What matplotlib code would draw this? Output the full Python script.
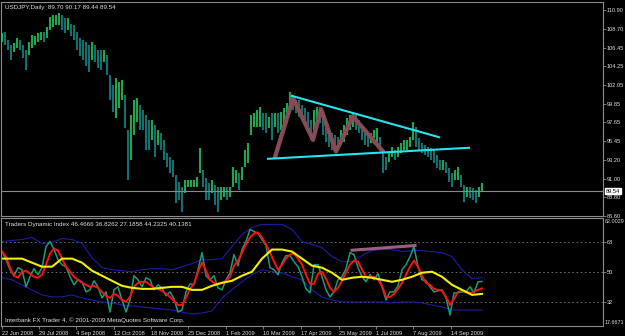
import matplotlib
matplotlib.use('Agg')
import matplotlib.pyplot as plt
import matplotlib.transforms as mtransforms
import numpy as np
import pandas as pd

# USDJPY daily, high/low sampled every 3 calendar days from 22 Jun 2008
price_high = [108.19, 108.31, 107.37, 106.78, 107.01, 107.60, 107.37, 106.78, 106.19, 107.13,
              107.96, 107.84, 108.19, 108.31, 108.31, 108.90, 110.08, 110.31, 110.31, 110.55,
              110.31, 109.96, 109.96, 109.25, 109.13, 108.31, 107.60, 107.37, 107.13, 106.78,
              107.13, 106.78, 106.19, 106.19, 106.19, 105.60, 103.24, 102.07, 102.89, 102.42,
              102.66, 100.89, 96.77, 98.53, 100.30, 100.54, 99.71, 99.12, 98.53, 97.94,
              97.94, 97.35, 96.77, 96.41, 95.59, 94.06, 93.59, 93.23, 91.47, 90.64,
              90.05, 90.88, 90.88, 90.88, 90.88, 91.23, 94.65, 92.05, 91.11, 90.52,
              90.88, 90.29, 90.05, 90.05, 90.05, 90.05, 90.05, 92.41, 92.05, 91.70,
              92.41, 94.41, 95.23, 98.53, 98.77, 99.12, 99.47, 98.77, 98.77, 98.30,
              98.77, 98.77, 98.77, 98.89, 99.36, 99.95, 101.24, 100.65, 100.30, 100.30,
              99.71, 99.36, 98.89, 97.94, 99.12, 99.47, 99.47, 98.53, 97.71, 96.77,
              96.41, 96.18, 95.94, 96.77, 97.35, 98.18, 98.53, 98.77, 98.53, 97.94,
              97.12, 96.77, 96.41, 96.41, 96.77, 97.00, 95.94, 94.41, 93.59, 94.18,
              94.76, 94.41, 94.76, 95.23, 95.59, 95.59, 95.94, 97.71, 97.12, 95.82,
              95.23, 95.00, 94.76, 94.65, 94.41, 93.82, 93.23, 93.23, 93.00, 92.29,
              91.70, 92.05, 92.41, 91.47, 90.29, 90.05, 90.05, 89.93, 89.70, 90.05,
              90.52]
price_low = [107.13, 106.78, 106.19, 105.01, 105.95, 106.42, 106.19, 105.25, 103.83, 105.60,
             106.42, 106.78, 107.13, 107.37, 107.13, 107.60, 108.54, 108.90, 109.13, 109.13,
             108.54, 108.19, 108.54, 107.84, 107.37, 106.19, 105.48, 105.01, 104.30, 103.60,
             105.01, 104.78, 104.07, 103.83, 104.78, 103.24, 100.30, 98.89, 98.18, 99.36,
             100.30, 97.00, 90.88, 93.23, 96.18, 97.71, 96.77, 96.77, 94.41, 94.41,
             95.59, 93.59, 95.00, 94.41, 93.23, 92.41, 91.70, 91.23, 88.17, 88.52,
             87.11, 89.35, 90.05, 90.05, 90.05, 90.05, 91.70, 90.05, 88.52, 88.52,
             89.35, 87.93, 87.11, 88.52, 88.88, 88.52, 88.88, 90.05, 90.52, 89.70,
             90.88, 92.41, 92.88, 96.18, 97.12, 97.12, 97.12, 96.77, 96.41, 97.00,
             95.59, 97.12, 96.41, 96.77, 97.00, 97.59, 99.12, 99.12, 98.77, 98.30,
             97.94, 97.35, 96.77, 95.59, 96.77, 97.94, 97.59, 96.18, 95.35, 94.76,
             94.41, 94.41, 94.41, 95.00, 95.35, 96.18, 96.77, 97.12, 96.77, 96.41,
             95.59, 95.00, 94.76, 95.23, 95.23, 95.23, 94.41, 91.70, 92.05, 93.00,
             93.59, 93.23, 93.59, 94.06, 94.41, 94.41, 94.76, 95.59, 94.76, 94.41,
             94.06, 93.82, 93.59, 93.23, 92.88, 92.29, 92.05, 92.05, 91.70, 90.64,
             90.05, 90.88, 90.88, 90.05, 88.29, 88.88, 88.76, 88.52, 88.17, 88.88,
             89.46]
last_price = 89.54

# Traders Dynamic Index: RSI price line and signal line every 4 days
tdi_rsi = [62.0, 57.2, 51.2, 47.6, 52.4, 51.2, 41.0, 47.0, 51.8, 48.2,
           52.4, 65.0, 68.0, 63.2, 57.2, 54.2, 53.0, 47.0, 42.2, 45.2,
           44.0, 38.0, 39.2, 44.6, 41.0, 34.4, 38.0, 26.0, 39.2, 41.0,
           33.2, 26.0, 33.2, 47.6, 45.2, 41.0, 46.4, 45.2, 39.2, 42.2,
           40.4, 35.6, 38.0, 33.8, 26.0, 27.2, 38.0, 42.8, 42.2, 51.2,
           61.4, 47.6, 45.2, 47.6, 40.4, 39.2, 45.2, 49.4, 60.2, 53.6,
           63.2, 68.0, 75.2, 74.0, 72.8, 69.2, 65.6, 52.4, 51.2, 48.2,
           55.4, 59.6, 59.6, 56.0, 53.0, 47.0, 39.8, 37.4, 54.2, 54.2,
           47.0, 39.2, 35.0, 38.0, 45.2, 47.0, 51.8, 61.4, 60.2, 52.4,
           47.0, 44.0, 48.2, 45.2, 48.8, 41.0, 33.2, 38.0, 38.0, 41.6,
           51.2, 54.2, 59.0, 65.0, 53.0, 45.2, 44.6, 41.0, 38.0, 38.6,
           39.2, 34.4, 24.2, 37.4, 37.4, 38.0, 38.0, 41.0, 37.4, 44.0,
           44.2]
tdi_signal = [62.0, 59.0, 52.4, 47.6, 46.4, 50.0, 50.6, 48.8, 47.0, 46.4,
              48.2, 54.2, 60.8, 63.8, 62.6, 57.8, 53.0, 50.0, 47.0, 45.2,
              43.4, 42.2, 41.0, 41.6, 40.4, 38.0, 35.6, 34.4, 36.8, 35.6,
              33.2, 32.0, 35.0, 41.0, 43.4, 44.0, 44.0, 42.2, 40.4, 39.8,
              38.6, 36.8, 35.0, 32.6, 30.2, 30.2, 34.4, 39.8, 42.8, 50.0,
              55.4, 50.6, 45.2, 43.4, 42.8, 43.4, 44.6, 47.0, 53.6, 56.6,
              61.4, 66.2, 70.4, 72.8, 73.4, 70.4, 66.2, 61.4, 56.0, 51.2,
              54.2, 57.8, 60.2, 60.8, 57.8, 54.2, 48.2, 42.8, 42.8, 48.8,
              50.0, 45.8, 40.4, 38.0, 40.4, 44.6, 49.4, 54.2, 56.6, 56.0,
              51.2, 47.0, 46.4, 47.0, 45.2, 41.6, 35.0, 35.0, 36.8, 39.8,
              43.4, 48.2, 53.0, 56.6, 53.0, 47.6, 43.4, 42.2, 39.8, 39.2,
              38.6, 35.0, 30.2, 33.8, 38.0, 38.6, 38.0, 37.4, 38.0, 39.2,
              40.1]
# market base line and volatility bands every 10 days
tdi_base = [57.8, 57.8, 57.8, 55.4, 53.0, 53.0, 57.8, 57.8, 55.4, 50.6,
            47.6, 44.6, 41.6, 40.4, 39.8, 39.8, 40.4, 41.0, 41.0, 39.2,
            39.2, 41.6, 43.4, 44.6, 47.6, 50.0, 57.8, 63.2, 63.2, 62.0,
            57.8, 53.6, 52.4, 49.4, 45.2, 46.4, 47.0, 46.4, 45.2, 44.0,
            45.2, 47.0, 49.4, 50.0, 47.0, 42.2, 39.2, 36.2, 36.8]
tdi_upper = [68.0, 68.6, 69.2, 70.4, 66.8, 67.4, 69.8, 69.2, 66.8, 58.4,
             52.4, 51.2, 50.6, 50.0, 51.2, 51.8, 51.8, 51.2, 53.0, 54.8,
             57.2, 57.2, 57.8, 65.0, 72.2, 76.4, 78.2, 78.2, 78.2, 75.2,
             68.0, 66.2, 64.4, 59.0, 56.0, 56.0, 59.6, 62.6, 63.2, 63.2,
             62.0, 62.6, 62.6, 62.0, 61.4, 59.0, 51.2, 45.8, 46.5]
tdi_lower = [46.4, 45.2, 42.2, 39.2, 36.2, 35.0, 35.0, 36.2, 34.4, 33.2,
             32.0, 31.4, 30.2, 29.6, 29.0, 28.4, 27.8, 27.2, 26.0, 24.8,
             25.4, 26.6, 34.4, 39.2, 44.0, 48.2, 51.2, 50.0, 49.4, 47.0,
             45.2, 39.2, 35.0, 33.2, 32.0, 32.0, 32.0, 32.0, 32.0, 31.4,
             32.0, 32.0, 31.4, 30.2, 29.0, 27.2, 27.2, 27.2, 27.2]

# hand drawn objects
tri_top_dates = ['2009-04-08', '2009-09-02']
tri_top_prices = [100.77, 95.90]
tri_bot_dates = ['2009-03-15', '2009-10-02']
tri_bot_prices = [93.35, 94.65]
zigzag_dates = ['2009-03-22', '2009-04-09', '2009-04-29', '2009-05-07',
                '2009-05-22', '2009-06-08', '2009-07-08']
zigzag_prices = [93.55, 100.50, 95.59, 99.20, 94.21, 98.34, 94.21]
div_dates = ['2009-06-07', '2009-08-09']
div_values = [62.8, 65.6]

price_ticks = [110.90, 108.70, 106.45, 104.25, 102.05, 99.85, 97.65,
               95.45, 93.20, 91.00, 88.80, 86.60]
tdi_levels = [68, 50, 32]
tdi_max, tdi_min = 82.0029, 17.6671
date_labels = ['22 Jun 2008', '29 Jul 2008', '4 Sep 2008', '12 Oct 2008',
               '18 Nov 2008', '25 Dec 2008', '1 Feb 2009', '10 Mar 2009',
               '17 Apr 2009', '25 May 2009', '1 Jul 2009', '7 Aug 2009',
               '14 Sep 2009']

start = pd.Timestamp('2008-06-22')
bar_dates = pd.date_range(start, periods=len(price_high), freq='3D')
rsi_dates = pd.date_range(start, periods=len(tdi_rsi), freq='4D')
band_dates = pd.date_range(start, periods=len(tdi_base), freq='10D')

plt.rcParams['font.family'] = ['Liberation Sans', 'DejaVu Sans']
txt = '#e0e0e0'
frame = '#8c8c8c'
fs = 4.5     # window captions
fs_ax = 4.1  # scale labels

W, H = 625, 336
fig = plt.figure(figsize=(W / 100, H / 100), dpi=100, facecolor='black')


def px_axes(x0, y0, x1, y1):
    return fig.add_axes([x0 / W, 1 - y1 / H, (x1 - x0) / W, (y1 - y0) / H])


ax = px_axes(1, 2, 603, 216)
ax2 = px_axes(1, 218, 603, 326)
xlim = (start - pd.Timedelta(days=1), start + pd.Timedelta(days=601))

for a in (ax, ax2):
    a.set_facecolor('black')
    a.set_xlim(xlim)
    for s in a.spines.values():
        s.set_color(frame)
        s.set_linewidth(0.8)
    a.yaxis.tick_right()
    a.tick_params(axis='y', colors=frame, labelcolor=txt, labelsize=fs_ax,
                  length=2, width=0.6, pad=0.8)

# price bars, green when the bar closes higher, teal when lower
high = np.array(price_high)
low = np.array(price_low)
mid = (high + low) / 2
up = np.diff(mid, prepend=mid[0]) >= 0
colors = np.where(up, '#1fa64c', '#12716f')
ax.vlines(bar_dates, low, high, colors=colors, linewidth=1.5)
ax.axhline(last_price, color='#8a8a8a', linewidth=0.8)

ax.plot(pd.to_datetime(zigzag_dates), zigzag_prices, color='#7d4a58',
        linewidth=3.2, solid_capstyle='round', zorder=4)
ax.plot(pd.to_datetime(zigzag_dates), zigzag_prices, color='#d05a3a',
        linewidth=0.6, linestyle=(0, (1, 2)), zorder=5)
ax.plot(pd.to_datetime(tri_top_dates), tri_top_prices, color='#22e6ee',
        linewidth=1.5, zorder=6)
ax.plot(pd.to_datetime(tri_bot_dates), tri_bot_prices, color='#22e6ee',
        linewidth=1.5, zorder=6)

ax.set_ylim(86.60, 111.85)
ax.set_yticks(price_ticks)
ax.set_yticklabels([f'{v:.2f}' for v in price_ticks])
ax.set_xticks([])
trans = mtransforms.blended_transform_factory(ax.transAxes, ax.transData)
ax.text(1.004, last_price, f'{last_price:.2f}', transform=trans, fontsize=fs_ax,
        color='black', va='center', ha='left',
        bbox=dict(boxstyle='square,pad=0.15', fc='white', ec='white'))
ax.text(0.006, 0.985, 'USDJPY,Daily  89.70 90.17 89.44 89.54',
        transform=ax.transAxes, fontsize=fs, color=txt, va='top', ha='left')

# Traders Dynamic Index
for lv in tdi_levels:
    ax2.axhline(lv, color='#7a7a7a', linewidth=0.6, linestyle=(0, (2, 3)))
ax2.plot(band_dates, tdi_upper, color='#1c1ca8', linewidth=0.8)
ax2.plot(band_dates, tdi_lower, color='#1c1ca8', linewidth=0.8)
ax2.plot(rsi_dates, tdi_rsi, color='#1d9a78', linewidth=1.1)
ax2.plot(rsi_dates, tdi_signal, color='#ff1010', linewidth=1.4)
ax2.plot(band_dates, tdi_base, color='#f2f000', linewidth=1.5)
ax2.plot(pd.to_datetime(div_dates), div_values, color='#9a5f80',
         linewidth=2.2, zorder=5)

ax2.set_ylim(tdi_min, tdi_max)
ax2.set_yticks(tdi_levels)
ax2.set_yticklabels([str(v) for v in tdi_levels])
ax2.text(1.003, 0.99, f'{tdi_max:.4f}', transform=ax2.transAxes,
         fontsize=3.9, color=txt, va='top', ha='left')
ax2.text(1.003, 0.01, f'{tdi_min:.4f}', transform=ax2.transAxes,
         fontsize=3.9, color=txt, va='bottom', ha='left')
ax2.text(0.006, 0.96,
         'Traders Dynamic Index 46.4666 36.8262 27.1858 44.2325 40.1381',
         transform=ax2.transAxes, fontsize=fs, color=txt, va='top', ha='left')
ax2.text(0.006, 0.03,
         'Interbank FX Trader 4, \u00a9 2001-2009 MetaQuotes Software Corp.',
         transform=ax2.transAxes, fontsize=fs, color=txt, va='bottom', ha='left')

tick_dates = pd.to_datetime(date_labels, format='%d %b %Y')
ax2.set_xticks(tick_dates)
ax2.set_xticklabels(date_labels)
ax2.tick_params(axis='x', colors=frame, labelcolor=txt, labelsize=fs_ax,
                length=2, width=0.6, pad=1.5)
for lab in ax2.get_xticklabels():
    lab.set_ha('left')

fig.savefig('out.png', dpi=100, facecolor='black')
